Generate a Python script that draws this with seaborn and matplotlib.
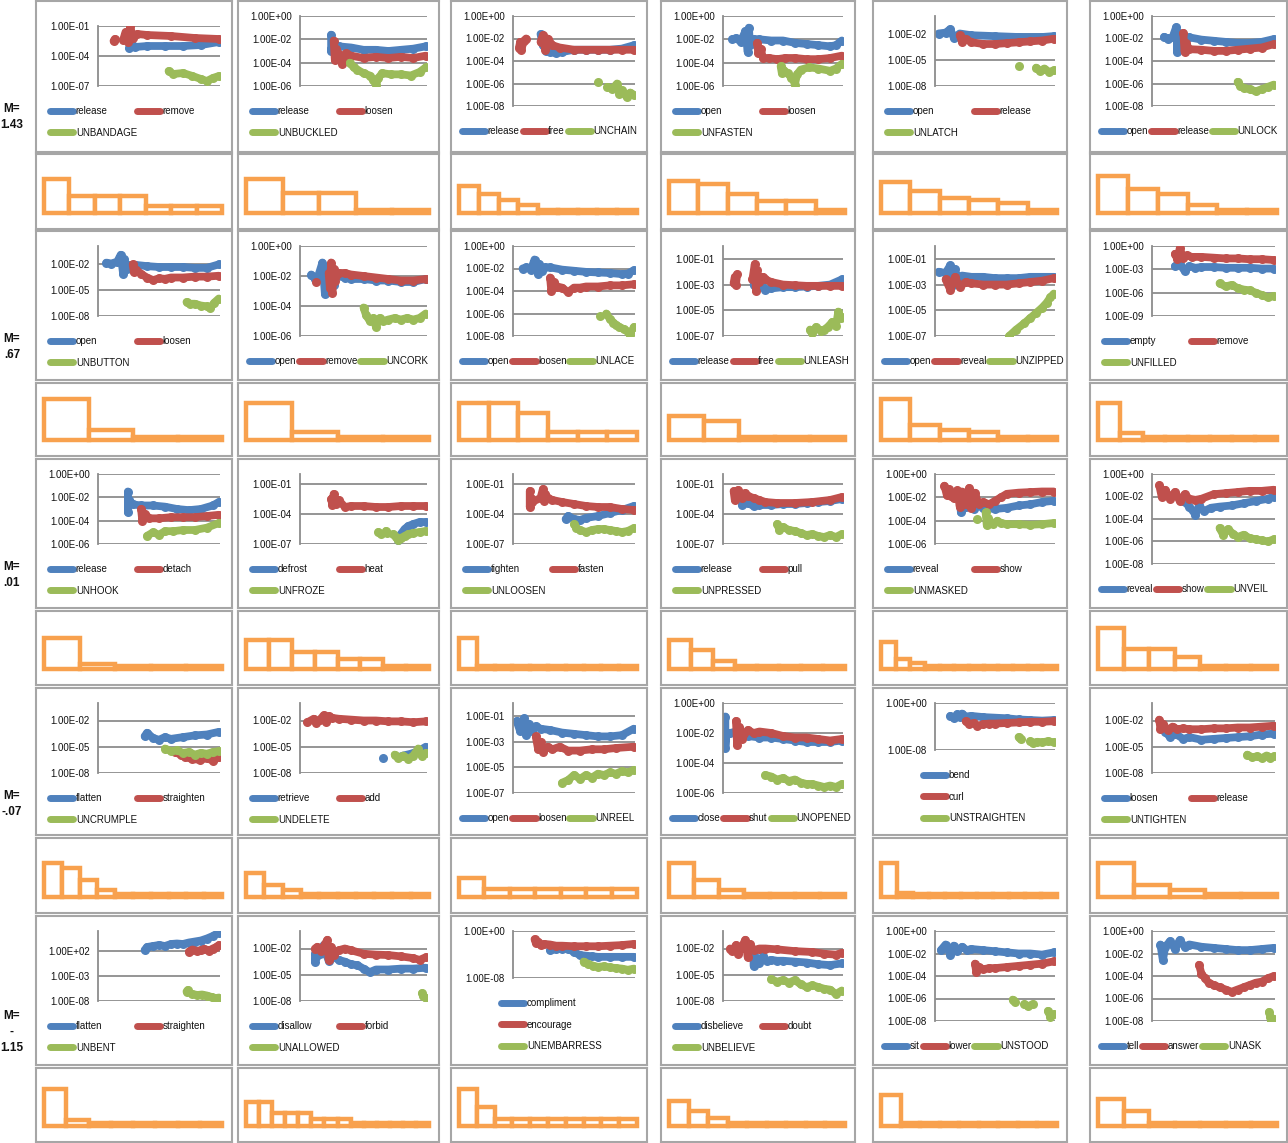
import numpy as np
import matplotlib
matplotlib.use("Agg")
import matplotlib.pyplot as plt
from matplotlib.lines import Line2D
from matplotlib.legend import Legend
import seaborn as sns

sns.set_theme(style="white")
plt.rcParams["font.family"] = ["Liberation Sans", "DejaVu Sans"]

nan = np.nan

# ---- data (log10 values, x = position along the run 0..100) ----
M_LABELS = ["M=\n1.43", "M=\n.67", "M=\n.01", "M=\n-.07", "M=\n-\n1.15"]

WORDS = [
    ("release", "remove", "UNBANDAGE"), ("release", "loosen", "UNBUCKLED"), ("release", "free", "UNCHAIN"),
    ("open", "loosen", "UNFASTEN"), ("open", "release", "UNLATCH"), ("open", "release", "UNLOCK"),
    ("open", "loosen", "UNBUTTON"), ("open", "remove", "UNCORK"), ("open", "loosen", "UNLACE"),
    ("release", "free", "UNLEASH"), ("open", "reveal", "UNZIPPED"), ("empty", "remove", "UNFILLED"),
    ("release", "detach", "UNHOOK"), ("defrost", "heat", "UNFROZE"), ("tighten", "fasten", "UNLOOSEN"),
    ("release", "pull", "UNPRESSED"), ("reveal", "show", "UNMASKED"), ("reveal", "show", "UNVEIL"),
    ("flatten", "straighten", "UNCRUMPLE"), ("retrieve", "add", "UNDELETE"), ("open", "loosen", "UNREEL"),
    ("close", "shut", "UNOPENED"), ("bend", "curl", "UNSTRAIGHTEN"), ("loosen", "release", "UNTIGHTEN"),
    ("flatten", "straighten", "UNBENT"), ("disallow", "forbid", "UNALLOWED"), ("compliment", "encourage", "UNEMBARRESS"),
    ("disbelieve", "doubt", "UNBELIEVE"), ("sit", "lower", "UNSTOOD"), ("tell", "answer", "UNASK"),
]

LEGEND_COLS = [2, 2, 3, 2, 2, 3,
               2, 3, 3, 3, 3, 2,
               2, 2, 2, 2, 2, 3,
               2, 2, 3, 3, 1, 2,
               2, 2, 1, 2, 3, 3]

YRANGE = [(-7, -1), (-6, 0), (-8, 0), (-6, 0), (-8, 0), (-8, 0),
          (-8, 0), (-6, 0), (-8, 0), (-7, 0), (-7, 0), (-9, 0),
          (-6, 0), (-7, 0), (-7, 0), (-7, 0), (-6, 0), (-8, 0),
          (-8, 0), (-8, 0), (-7, 0), (-6, 0), (-8, 0), (-8, 0),
          (-8, 6), (-8, 0), (-8, 0), (-8, 0), (-8, 0), (-8, 0)]

YTICKS = [[-1, -4, -7], [0, -2, -4, -6], [0, -2, -4, -6, -8], [0, -2, -4, -6], [-2, -5, -8], [0, -2, -4, -6, -8],
          [-2, -5, -8], [0, -2, -4, -6], [0, -2, -4, -6, -8], [-1, -3, -5, -7], [-1, -3, -5, -7], [0, -3, -6, -9],
          [0, -2, -4, -6], [-1, -4, -7], [-1, -4, -7], [-1, -4, -7], [0, -2, -4, -6], [0, -2, -4, -6, -8],
          [-2, -5, -8], [-2, -5, -8], [-1, -3, -5, -7], [0, -2, -4, -6], [0, -8], [-2, -5, -8],
          [2, -3, -8], [-2, -5, -8], [0, -8], [-2, -5, -8], [0, -2, -4, -6, -8], [0, -2, -4, -6, -8]]

BLUE = [
    ([25, 27, 30, 40, 55, 70, 85, 100], [-3.2, -2.7, -3.1, -3.0, -3.0, -3.0, -2.9, -2.6]),
    ([24, 24, 25, 30, 40, 50, 60, 70, 80, 90, 100], [-1.6, -3.0, -2.4, -2.6, -2.7, -2.9, -2.9, -3.0, -2.9, -2.8, -2.6]),
    ([22, 24, 27, 30, 35, 40, 50, 60, 70, 80, 90, 100], [-1.6, -2.6, -3.1, -3.2, -3.3, -3.2, -3.0, -3.0, -3.0, -3.0, -2.9, -2.6]),
    ([7, 10, 14, 18, 20, 21, 22, 25, 30, 40, 50, 60, 70, 80, 90, 95, 100],
     [-2.0, -1.9, -2.2, -1.3, -3.1, -1.0, -2.5, -2.0, -2.0, -2.1, -2.1, -2.3, -2.4, -2.5, -2.6, -2.5, -2.1]),
    ([2, 8, 12, 15, 20, 30, 50, 70, 90, 100], [-2.0, -1.9, -1.5, -2.5, -2.0, -2.2, -2.3, -2.4, -2.4, -2.3]),
    ([9, 12, 16, 19, 20, 21, 23, 26, 30, 40, 50, 60, 70, 80, 90, 100],
     [-1.85, -2.0, -1.9, -1.0, -3.2, -1.5, -2.6, -2.0, -1.9, -2.1, -2.2, -2.3, -2.4, -2.4, -2.3, -2.05]),
    ([6, 10, 15, 18, 20, 21, 23, 26, 30, 40, 50, 60, 70, 80, 90, 100],
     [-1.9, -2.0, -1.8, -1.0, -3.2, -1.5, -2.6, -2.2, -2.15, -2.3, -2.4, -2.4, -2.4, -2.5, -2.5, -2.1]),
    ([8, 11, 14, 17, 19, 20, 22, 24, 26, 28, 35, 40, 50, 60, 70, 80, 90, 100],
     [-1.9, -2.2, -1.9, -1.1, -3.2, -1.4, -3.0, -2.0, -2.6, -2.0, -2.1, -2.2, -2.2, -2.3, -2.3, -2.4, -2.4, -2.2]),
    ([7, 10, 14, 17, 20, 21, 23, 26, 30, 40, 50, 60, 70, 80, 90, 95, 100],
     [-2.0, -1.9, -2.1, -1.2, -2.5, -1.6, -2.2, -1.9, -1.9, -2.1, -2.2, -2.3, -2.35, -2.4, -2.5, -2.45, -2.15]),
    ([25, 28, 32, 35, 40, 50, 60, 70, 80, 90, 100], [-3.0, -3.3, -3.1, -3.4, -3.3, -3.2, -3.2, -3.15, -3.1, -3.0, -2.6]),
    ([2, 8, 12, 14, 16, 18, 22, 30, 40, 50, 60, 70, 80, 90, 100],
     [-2.0, -2.1, -1.5, -3.0, -1.8, -2.6, -2.3, -2.4, -2.4, -2.5, -2.5, -2.5, -2.4, -2.4, -2.4]),
    ([18, 22, 26, 30, 35, 40, 50, 60, 70, 80, 90, 100], [-2.6, -2.3, -3.2, -2.6, -2.8, -2.7, -2.7, -2.8, -2.8, -2.8, -2.9, -2.9]),
    ([24, 24, 25, 28, 35, 45, 55, 65, 75, 85, 95, 100], [-1.5, -3.3, -2.2, -2.6, -2.7, -2.7, -2.8, -3.0, -3.1, -3.0, -2.7, -2.4]),
    ([78, 80, 83, 86, 90, 95, 100], [-6.6, -6.0, -5.5, -5.2, -5.0, -4.8, -4.8]),
    ([43, 45, 50, 55, 60, 70, 80, 90, 100], [-4.5, -4.2, -4.5, -4.6, -4.4, -4.2, -3.9, -3.6, -3.2]),
    ([15, 20, 25, 30, 40, 50, 60, 70, 80, 90, 100], [-3.1, -2.9, -3.2, -3.1, -3.1, -3.0, -3.0, -2.9, -2.8, -2.7, -2.5]),
    ([20, 21, 22, 25, 28, 32, 35, 40, 50, 60, 70, 80, 90, 100],
     [-1.9, -3.3, -2.3, -2.8, -2.4, -3.0, -2.7, -2.9, -3.0, -2.9, -2.7, -2.6, -2.4, -2.3]),
    ([25, 30, 35, 38, 42, 48, 55, 65, 75, 85, 95, 100], [-2.4, -2.9, -3.6, -2.8, -3.3, -3.0, -2.9, -2.8, -2.6, -2.4, -2.2, -2.0]),
    ([38, 40, 45, 50, 55, 60, 70, 80, 90, 100], [-3.8, -3.4, -4.0, -4.2, -3.9, -4.1, -3.9, -3.7, -3.6, -3.3]),
    ([66, nan, 78, 82, 88, 94, 100], [-6.3, nan, -6.2, -6.0, -5.8, -5.5, -5.0]),
    ([2, 5, 8, 10, 12, 15, 18, 22, 30, 40, 50, 60, 70, 80, 90, 100],
     [-1.4, -2.2, -1.2, -2.5, -1.6, -2.2, -1.8, -2.0, -2.1, -2.3, -2.4, -2.5, -2.6, -2.6, -2.5, -2.0]),
    ([1, 1, 2, 5, 10, 15, 20, 30, 40, 50, 60, 70, 80, 90, 100],
     [-0.9, -3.0, -2.0, -2.0, -1.9, -2.1, -2.2, -2.3, -2.3, -2.4, -2.5, -2.6, -2.6, -2.6, -2.5]),
    ([12, 15, 18, 20, 22, 25, 30, 40, 50, 60, 70, 80, 90, 100],
     [-2.2, -2.6, -1.9, -2.4, -1.8, -2.3, -2.2, -2.4, -2.5, -2.6, -2.8, -2.9, -3.0, -2.9]),
    ([10, 14, 18, 25, 30, 40, 50, 60, 70, 80, 90, 100], [-3.3, -3.9, -3.5, -4.1, -3.9, -4.2, -4.1, -4.0, -3.9, -3.8, -3.6, -3.5]),
    ([38, 40, 45, 50, 55, 60, 65, 70, 75, 80, 85, 90, 95, 100],
     [2.2, 2.8, 3.0, 3.2, 3.0, 3.4, 3.5, 3.4, 3.7, 3.9, 4.1, 4.5, 5.0, 5.7]),
    ([11, 11, 12, 15, 18, 20, 22, 25, 30, 35, 40, 45, 50, 55, 60, 70, 80, 90, 100],
     [-2.6, -3.5, -3.0, -2.6, -1.6, -2.6, -3.4, -2.9, -3.3, -3.5, -3.8, -3.9, -4.3, -4.7, -4.4, -4.4, -4.3, -4.3, -4.2]),
    ([30, 35, 40, 45, 50, 55, 60, 65, 70, 80, 90, 100], [-3.3, -3.1, -3.0, -3.0, -3.6, -4.1, -4.2, -4.3, -4.4, -4.4, -4.4, -4.4]),
    ([25, 25, 27, 30, 33, 36, 40, 45, 50, 60, 70, 80, 90, 100],
     [-2.7, -4.0, -3.2, -3.6, -2.9, -3.4, -3.3, -3.4, -3.4, -3.5, -3.6, -3.8, -3.9, -3.7]),
    ([4, 8, 12, 15, 18, 22, 26, 30, 40, 50, 60, 70, 80, 90, 100],
     [-1.7, -1.2, -2.1, -1.3, -1.8, -1.4, -1.7, -1.6, -1.7, -1.8, -1.9, -2.0, -2.0, -2.1, -1.9]),
    ([6, 8, 10, 14, 18, 22, 26, 30, 40, 50, 60, 70, 80, 90, 100],
     [-1.2, -2.6, -1.4, -0.9, -1.6, -0.8, -1.4, -1.2, -1.4, -1.5, -1.6, -1.7, -1.7, -1.6, -1.5]),
]

RED = [
    ([12, 13, nan, 20, 22, 24, 26, 28, 32, 40, 60, 80, 100],
     [-2.5, -2.3, nan, -2.4, -1.6, -2.6, -1.0, -2.2, -1.8, -1.9, -2.0, -2.2, -2.3]),
    ([26, 27, 28, 30, 33, 36, 40, 50, 60, 70, 80, 90, 100],
     [-2.1, -3.8, -2.8, -3.3, -4.1, -3.2, -3.4, -3.6, -3.5, -3.6, -3.5, -3.6, -3.4]),
    ([4, 5, 6, 8, 10, nan, 22, 24, 26, 28, 32, 38, 50, 60, 70, 80, 90, 100],
     [-2.8, -2.3, -3.0, -2.2, -2.0, nan, -2.3, -1.7, -3.0, -2.0, -2.6, -2.8, -3.0, -3.0, -3.0, -3.0, -3.0, -3.0]),
    ([28, 29, 31, 33, 38, 45, 52, 60, 70, 80, 90, 100], [-2.3, -3.2, -2.8, -3.6, -3.6, -3.7, -3.6, -3.6, -3.7, -3.7, -3.6, -3.4]),
    ([20, 22, 25, 30, 40, 50, 60, 70, 80, 90, 100], [-2.2, -3.0, -2.6, -3.0, -3.2, -3.2, -3.1, -3.0, -2.9, -2.8, -2.6]),
    ([25, 26, 27, 30, 40, 50, 60, 70, 80, 90, 100], [-1.5, -3.2, -2.4, -2.95, -3.0, -3.1, -3.1, -3.0, -2.9, -2.8, -2.5]),
    ([28, 29, 31, 35, 40, 45, 50, 55, 60, 70, 80, 90, 100],
     [-2.1, -3.0, -2.7, -3.2, -3.6, -3.9, -3.7, -3.75, -3.6, -3.6, -3.5, -3.5, -3.4]),
    ([12, nan, 22, 23, 24, 25, 26, 27, 30, 35, 40, 50, 60, 70, 80, 90, 100],
     [-2.4, nan, -1.8, -2.8, -1.1, -3.1, -1.5, -2.3, -1.8, -1.8, -1.9, -2.0, -2.1, -2.2, -2.3, -2.3, -2.2]),
    ([30, 31, 33, 36, 40, 45, 50, 55, 60, 70, 80, 90, 100],
     [-2.8, -4.0, -3.2, -3.6, -3.7, -4.1, -3.7, -3.7, -3.6, -3.6, -3.5, -3.5, -3.4]),
    ([8, 9, 10, 11, nan, 24, 26, 27, 28, 30, 33, 35, 40, 50, 60, 70, 80, 90, 100],
     [-2.9, -2.4, -3.0, -2.2, nan, -2.6, -1.4, -3.5, -1.9, -2.8, -2.4, -2.6, -2.8, -3.0, -3.05, -3.1, -3.1, -3.1, -3.1]),
    ([8, 12, 16, 20, 25, 30, 40, 50, 60, 70, 80, 90, 100],
     [-2.6, -3.4, -2.4, -3.2, -2.8, -2.9, -3.0, -3.0, -3.0, -2.9, -2.8, -2.7, -2.5]),
    ([18, 20, 22, 25, 28, 32, 40, 50, 60, 70, 80, 90, 100],
     [-1.0, -1.7, -0.3, -1.6, -1.2, -1.4, -1.4, -1.5, -1.6, -1.6, -1.7, -1.7, -1.8]),
    ([35, 36, 38, 42, 50, 60, 70, 80, 90, 100], [-3.0, -4.0, -3.4, -3.8, -3.8, -3.7, -3.7, -3.7, -3.6, -3.5]),
    ([24, 25, 26, 28, 30, 35, 40, 50, 60, 70, 80, 90, 100],
     [-2.5, -3.1, -2.0, -3.0, -2.6, -3.3, -3.2, -3.2, -3.3, -3.3, -3.2, -3.2, -3.2]),
    ([13, 13, 14, 15, 22, 24, 25, 26, 28, 32, 40, 50, 60, 70, 80, 90, 100],
     [-1.7, -3.3, -2.4, -2.8, -2.4, -1.5, -2.7, -2.0, -2.4, -2.6, -2.8, -3.0, -3.2, -3.3, -3.3, -3.5, -3.6]),
    ([8, 9, 10, 12, 15, 18, 20, 25, 30, 35, 45, 60, 75, 90, 100],
     [-1.7, -2.6, -2.0, -1.6, -2.4, -1.9, -2.2, -2.4, -2.6, -2.8, -2.9, -2.9, -2.8, -2.6, -2.3]),
    ([7, 9, 11, 13, 15, 18, 20, 22, 25, 28, 30, 33, 36, 40, 45, 50, 55, 60, 70, 80, 90, 100],
     [-1.0, -1.8, -1.3, -1.9, -2.1, -1.4, -2.8, -1.5, -2.6, -1.2, -2.9, -1.6, -2.6, -2.4, -2.6, -2.3, -2.0, -1.7, -1.6, -1.55, -1.5, -1.5]),
    ([5, 7, 10, 14, 18, 22, 26, 30, 35, 40, 50, 60, 70, 80, 90, 100],
     [-1.0, -2.0, -1.4, -2.2, -1.6, -2.4, -1.8, -2.2, -2.3, -2.2, -1.8, -1.7, -1.6, -1.5, -1.5, -1.4]),
    ([63, 68, 72, 78, 84, 90, 95, 100], [-5.6, -5.9, -6.2, -6.4, -6.5, -6.3, -6.6, -6.2]),
    ([5, 10, 12, 15, 18, 20, 22, 25, 30, 40, 50, 60, 70, 80, 90, 100],
     [-2.2, -1.8, -2.3, -1.9, -1.4, -2.2, -1.5, -1.7, -1.8, -1.9, -2.0, -2.0, -2.1, -2.1, -2.2, -2.1]),
    ([18, 20, 22, 24, 28, 32, 38, 45, 55, 65, 75, 85, 100],
     [-2.6, -3.6, -3.0, -3.8, -3.4, -3.6, -3.4, -3.7, -3.7, -3.6, -3.6, -3.5, -3.4]),
    ([10, 11, 13, 15, 20, 25, 30, 40, 50, 60, 70, 80, 90, 100],
     [-1.2, -2.8, -1.6, -2.4, -1.8, -2.0, -1.9, -2.0, -2.2, -2.3, -2.3, -2.4, -2.5, -2.4]),
    ([25, 28, 32, 35, 40, 45, 50, 60, 70, 80, 90, 100], [-3.1, -3.6, -3.4, -3.9, -3.6, -3.5, -3.5, -3.4, -3.3, -3.2, -3.2, -3.1]),
    ([5, 6, 8, 12, 16, 20, 25, 30, 40, 50, 60, 70, 80, 90, 100],
     [-1.9, -3.0, -2.4, -3.1, -2.7, -3.0, -2.9, -3.0, -3.0, -2.9, -2.9, -2.8, -2.8, -2.7, -2.6]),
    ([75, 78, 82, 85, 88, 92, 95, 98, 100], [1.9, 2.3, 2.0, 2.2, 2.4, 2.1, 2.5, 2.8, 3.2]),
    ([11, 13, 16, 19, 21, 22, 24, 26, 30, 35, 40, 50, 60, 70, 80, 90, 95, 100],
     [-2.0, -1.8, -2.3, -1.5, -1.0, -3.3, -1.8, -2.7, -2.2, -2.0, -2.2, -2.6, -2.7, -2.75, -2.9, -3.1, -3.3, -3.0]),
    ([17, 18, 20, 22, 25, 30, 35, 40, 50, 60, 70, 80, 90, 100],
     [-1.4, -2.0, -1.8, -2.4, -2.2, -2.3, -2.5, -2.5, -2.6, -2.6, -2.6, -2.5, -2.4, -2.2]),
    ([5, 7, 10, 12, 15, 18, 20, 22, 25, 30, 35, 45, 60, 75, 85, 95, 100],
     [-2.0, -2.3, -1.6, -2.6, -1.8, -1.0, -3.0, -1.5, -2.2, -2.0, -2.0, -2.1, -2.3, -2.4, -2.6, -2.7, -2.5]),
    ([33, 34, 36, 40, 45, 50, 60, 70, 80, 90, 100], [-2.9, -3.6, -3.2, -3.4, -3.3, -3.3, -3.2, -3.1, -3.0, -2.9, -2.7]),
    ([38, 40, 43, 46, 50, 55, 60, 65, 70, 75, 80, 85, 90, 95, 100],
     [-3.0, -3.8, -4.2, -4.6, -4.8, -5.0, -5.2, -5.4, -5.2, -5.0, -4.8, -4.6, -4.5, -4.2, -4.0]),
]

GREEN = [
    ([58, 62, 70, 78, 85, 90, 95, 100], [-5.5, -5.8, -5.7, -6.0, -6.3, -6.5, -6.2, -6.0]),
    ([39, 42, 45, 50, 55, 58, 60, 62, 65, 72, 80, 88, 95, 100],
     [-4.0, -4.4, -4.6, -4.9, -5.1, -5.5, -5.9, -5.3, -4.9, -5.0, -5.0, -5.1, -4.8, -4.4]),
    ([70, nan, 78, 82, 86, 88, 90, 94, 97, 100], [-5.9, nan, -6.3, -6.5, -6.0, -6.9, -6.6, -7.2, -6.8, -7.0]),
    ([48, 49, 50, 54, 57, 59, 60, 62, 65, 72, 80, 90, 95, 100],
     [-4.3, -4.9, -4.6, -4.9, -5.3, -5.5, -5.9, -5.0, -4.6, -4.4, -4.5, -4.7, -4.5, -4.1]),
    ([70, nan, 85, 88, 92, 96, 100], [-5.7, nan, -5.9, -6.3, -6.0, -6.4, -6.2]),
    ([70, 72, 75, 80, 85, 90, 95, 100], [-5.85, -6.2, -6.4, -6.5, -6.7, -6.5, -6.3, -6.1]),
    ([73, 76, 80, 85, 90, 93, 96, 100], [-6.4, -6.6, -6.6, -6.8, -6.9, -7.1, -6.5, -6.0]),
    ([50, 52, 55, 58, 60, 63, 66, 70, 75, 80, 85, 90, 95, 100],
     [-4.1, -4.6, -5.0, -4.8, -5.4, -4.8, -5.0, -4.9, -4.8, -4.9, -4.8, -4.9, -4.8, -4.5]),
    ([72, nan, 77, 80, 83, 85, 88, 92, 95, 97, 100], [-6.25, nan, -6.0, -6.5, -6.8, -7.0, -7.2, -7.4, -7.6, -7.9, -7.2]),
    ([73, 75, 78, 82, 85, 88, 92, 95, 97, 99, 100], [-6.5, -6.8, -6.3, -6.6, -6.5, -6.3, -5.9, -6.2, -5.1, -5.6, -5.5]),
    ([62, 68, 75, 80, 85, 90, 94, 97, 100], [-7.0, -6.5, -6.0, -5.6, -5.2, -4.8, -4.4, -4.0, -3.7]),
    ([55, 60, 65, 70, 75, 80, 85, 90, 95, 100], [-4.8, -5.2, -5.0, -5.4, -5.6, -5.7, -6.0, -6.3, -6.6, -6.4]),
    ([40, 45, 50, 55, 62, 70, 80, 90, 100], [-5.3, -5.0, -5.2, -4.9, -4.9, -4.8, -4.8, -4.6, -4.2]),
    ([62, 64, nan, 68, 69, nan, 74, 76, 78, 80, 83, 86, 90, 95, 100],
     [-5.8, -6.0, nan, -5.7, -5.9, nan, -6.0, -6.3, -6.6, -6.4, -6.2, -6.0, -5.9, -5.8, -5.7]),
    ([50, 52, 55, 60, 65, 70, 75, 80, 85, 90, 95, 100], [-5.0, -5.4, -5.6, -5.8, -5.6, -5.5, -5.5, -5.6, -5.7, -5.8, -5.7, -5.4]),
    ([45, 47, 50, 55, 60, 65, 70, 75, 80, 85, 90, 95, 100],
     [-5.0, -5.6, -5.3, -5.6, -5.7, -5.9, -6.1, -6.0, -6.2, -6.3, -6.1, -6.3, -6.0]),
    ([35, nan, 42, 43, 44, 48, 52, 55, 60, 70, 80, 90, 100],
     [-3.9, nan, -3.3, -4.4, -3.8, -4.3, -4.0, -4.2, -4.3, -4.3, -4.35, -4.3, -4.2]),
    ([55, 58, 62, 66, 70, 75, 80, 85, 90, 95, 100], [-4.8, -5.4, -4.9, -5.3, -5.6, -5.4, -5.7, -5.8, -5.9, -6.0, -5.8]),
    ([55, 60, 65, 70, 75, 80, 85, 90, 95, 100], [-5.2, -5.5, -5.4, -5.7, -5.6, -5.9, -5.7, -5.8, -5.6, -5.5]),
    ([75, 78, 82, 86, 90, 94, 97, 100], [-5.9, -6.3, -6.0, -6.4, -6.0, -5.2, -6.1, -5.7]),
    ([40, 45, 50, 55, 60, 65, 70, 75, 80, 85, 90, 95, 100],
     [-6.2, -6.0, -5.6, -5.9, -5.6, -5.8, -5.5, -5.6, -5.4, -5.5, -5.3, -5.4, -5.2]),
    ([35, 40, 45, 50, 55, 60, 65, 70, 75, 80, 85, 90, 95, 100],
     [-4.8, -4.9, -5.1, -5.0, -5.2, -5.1, -5.3, -5.4, -5.4, -5.5, -5.6, -5.5, -5.6, -5.4]),
    ([70, 72, nan, 80, 82, 86, 90, 95, 100], [-5.8, -6.2, nan, -6.5, -6.8, -6.6, -6.7, -6.5, -6.7]),
    ([78, 82, 86, 90, 94, 97, 100], [-5.9, -6.2, -6.1, -6.3, -6.0, -6.3, -6.1]),
    ([73, 74, nan, 78, 82, 86, 90, 94, 97, 100], [-6.1, -5.8, nan, -6.6, -6.8, -6.7, -6.9, -7.2, -7.5, -7.3]),
    ([97, 98, 100], [-7.1, -7.4, -7.6]),
    ([58, 62, 66, 70, 75, 80, 85, 90, 95, 100], [-5.2, -5.6, -5.9, -6.1, -6.0, -6.2, -6.3, -6.4, -6.6, -6.4]),
    ([40, 45, 50, 55, 60, 65, 70, 75, 80, 85, 90, 95, 100],
     [-5.5, -5.8, -5.6, -5.9, -5.6, -6.1, -6.4, -6.2, -6.4, -6.6, -6.7, -7.2, -6.8]),
    ([65, 67, nan, 75, 78, 82, nan, 95, 97, 100], [-6.1, -6.3, nan, -6.5, -6.7, -6.5, nan, -7.1, -7.6, -7.4]),
    ([96, 97, 98, 100], [-7.2, -7.6, -8.0, -7.8]),
]

BARS = [
    [10, 5, 5, 5, 2, 2, 2], [10, 6, 6, 1, 1], [8, 5.5, 4, 2.5, 1, 1, 1, 1, 1],
    [9.5, 8.5, 5.5, 3.5, 3.5, 1], [9, 6.5, 4.5, 4, 3, 1], [11, 7, 5.5, 2.5, 1, 1],
    [12, 3, 1, 1], [11, 2.5, 1, 1], [11, 11, 8, 2.5, 2.5, 2.5],
    [7, 5.5, 1, 1, 1], [12, 4.5, 3, 2.5, 1, 1], [11, 2, 1, 1, 1, 1, 1, 1],
    [9, 1.5, 1, 1, 1], [8.5, 8.5, 5, 5, 3, 3, 1, 1], [9, 1, 1, 1, 1, 1, 1, 1, 1, 1],
    [8.5, 5.5, 2.5, 1, 1, 1, 1, 1], [8, 3, 1.8, 1, 1, 1, 1, 1, 1, 1, 1, 1], [12, 6, 6, 3.5, 1, 1, 1],
    [10, 8.5, 5, 2, 1, 1, 1, 1, 1, 1], [7, 3.5, 2, 1, 1, 1, 1, 1, 1, 1], [5.5, 2.5, 2.5, 2.5, 2.5, 2.5, 2.5],
    [10, 5, 2, 1, 1, 1, 1], [10, 1.3, 1, 1, 1, 1, 1, 1, 1, 1, 1], [10, 3.5, 2, 1, 1],
    [11, 1.8, 1, 1, 1, 1, 1, 1], [7, 7, 4, 4, 4, 2, 2, 2, 1, 1, 1, 1, 1, 1], [11, 5.5, 2, 2, 2, 2, 2, 2, 2, 2],
    [7.5, 4.5, 2.5, 1, 1, 1, 1, 1, 1], [9, 1, 1, 1, 1, 1, 1, 1, 1], [8, 4.5, 1, 1, 1, 1, 1],
]

# ---- layout / style ----
W, H = 1288, 1143
COLS = [(36, 232), (238, 439), (451, 647), (661, 855), (873, 1067), (1090, 1287)]
ROWS = [((1, 152), (154, 229)), ((231, 380), (383, 456)), ((459, 608), (611, 685)),
        ((688, 835), (838, 913)), ((916, 1065), (1068, 1142))]
C_BLUE, C_RED, C_GREEN, C_ORANGE = "#4F81BD", "#C0504D", "#9BBB59", "#F8A14E"
FRAME, GRID, INK = "#A6A6A6", "#8C8C8C", "#111111"


def fig_rect(x0, x1, y0, y1):
    return [x0 / W, 1 - y1 / H, (x1 - x0) / W, (y1 - y0) / H]


def frame_box(fig, x0, x1, y0, y1):
    a = fig.add_axes(fig_rect(x0, x1, y0, y1))
    a.set_xticks([])
    a.set_yticks([])
    a.set_facecolor("white")
    for s in a.spines.values():
        s.set_visible(True)
        s.set_color(FRAME)
        s.set_linewidth(1.5)
    return a


def draw_series(ax, series, color):
    xs = np.asarray(series[0], float)
    ys = np.asarray(series[1], float)
    gap = np.isnan(ys)
    seg = np.cumsum(gap)
    for s in np.unique(seg[~gap]):
        m = (seg == s) & ~gap
        sns.lineplot(x=xs[m], y=10.0 ** ys[m], ax=ax, color=color, lw=5.6, marker="o", ms=6.5,
                     mew=0, estimator=None, sort=False, solid_capstyle="round",
                     solid_joinstyle="round", legend=False)


def put_legend(ax, handles, labels, x_px, y_px, ncol):
    leg = Legend(ax, handles, labels, loc="upper left", bbox_to_anchor=(x_px / W, 1 - y_px / H),
                 bbox_transform=fig.transFigure, ncol=ncol, frameon=False, fontsize=7,
                 handlelength=2.4, handletextpad=0.25, labelspacing=1.2, borderaxespad=0,
                 borderpad=0, columnspacing=0.3, labelcolor=INK)
    ax.add_artist(leg)


fig = plt.figure(figsize=(W / 100, H / 100), dpi=100)

for r, ((sy0, sy1), (by0, by1)) in enumerate(ROWS):
    fig.text(12 / W, 1 - (sy0 + 116) / H, M_LABELS[r], ha="center", va="center",
             fontsize=8.5, fontweight="bold", linespacing=1.45, color=INK)
    for c, (x0, x1) in enumerate(COLS):
        i = r * 6 + c
        ncol = LEGEND_COLS[i]

        # scatter panel
        frame_box(fig, x0, x1, sy0, sy1)
        top = 25 if i == 0 else 15
        bottom = {1: 62, 2: 85, 3: 105}[ncol]
        ax = fig.add_axes(fig_rect(x0 + 62, x1 - 12, sy0 + top, sy0 + bottom))
        ax.set_facecolor("none")
        ax.set_yscale("log")
        draw_series(ax, BLUE[i], C_BLUE)
        draw_series(ax, RED[i], C_RED)
        draw_series(ax, GREEN[i], C_GREEN)
        lo, hi = YRANGE[i]
        ax.set_ylim(10.0 ** lo, 10.0 ** hi)
        ax.set_xlim(-1, 101)
        ticks = YTICKS[i]
        ax.set_yticks([10.0 ** t for t in ticks])
        ax.set_yticklabels([f"1.00E{t:+03d}" for t in ticks])
        ax.minorticks_off()
        ax.set_xticks([])
        ax.set_xlabel("")
        ax.set_ylabel("")
        ax.grid(axis="y", color=GRID, lw=1.3)
        ax.set_axisbelow(True)
        for name, sp in ax.spines.items():
            sp.set_visible(name == "left")
        ax.spines["left"].set_color(GRID)
        ax.spines["left"].set_linewidth(1.3)
        ax.tick_params(axis="y", length=4, width=1.2, color=GRID, labelsize=7, pad=2, labelcolor=INK)

        handles = [Line2D([], [], color=col, lw=5, solid_capstyle="round") for col in (C_BLUE, C_RED, C_GREEN)]
        labels = list(WORDS[i])
        leg_top = sy0 + bottom + 20
        if ncol == 2:
            put_legend(ax, [handles[0], handles[2]], [labels[0], labels[2]], x0 + 14, leg_top, 1)
            put_legend(ax, [handles[1]], [labels[1]], x0 + 101, leg_top, 1)
        elif ncol == 3:
            put_legend(ax, handles, labels, x0 + 11, leg_top, 3)
        else:
            put_legend(ax, handles, labels, x0 + 50, leg_top, 1)

        # histogram panel
        frame_box(fig, x0, x1, by0, by1)
        bax = fig.add_axes(fig_rect(x0 + 8, x1 - 10, by1 - 62, by1 - 14))
        heights = BARS[i]
        sns.barplot(x=list(range(len(heights))), y=heights, ax=bax, color="white", saturation=1,
                    edgecolor=C_ORANGE, linewidth=3.2, width=1, errorbar=None)
        for p in bax.patches:
            p.set_clip_on(False)
            p.set_joinstyle("miter")
        bax.set_xlim(-0.5, len(heights) - 0.5)
        bax.set_ylim(-0.5, 13.5)
        bax.set_axis_off()

fig.savefig("out.png", dpi=100)
